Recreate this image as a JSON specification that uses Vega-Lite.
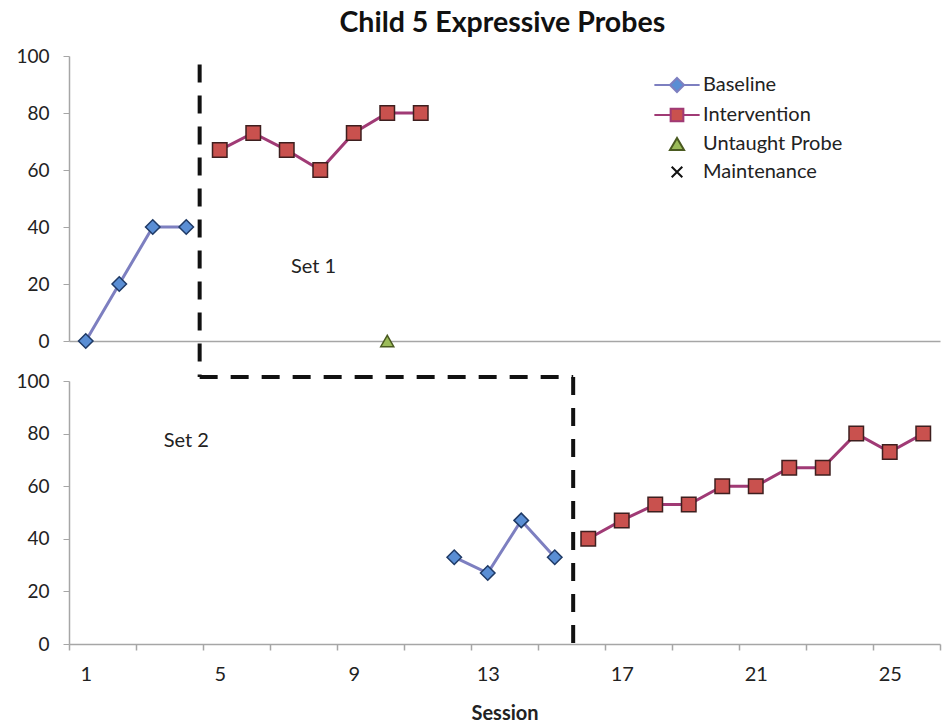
{
  "$schema": "https://vega.github.io/schema/vega-lite/v6.json",
  "background": "white",
  "padding": {"left": 15, "top": 8, "right": 3, "bottom": 4},
  "title": {"text": "Child 5 Expressive Probes", "fontSize": 28.5, "font": "Lato", "fontWeight": "bold", "color": "#111", "anchor": "middle", "offset": 10, "dx": 16},
  "datasets": {
    "probes": [
      {"set": "Set 1", "series": "Baseline", "session": 1, "value": 0},
      {"set": "Set 1", "series": "Baseline", "session": 2, "value": 20},
      {"set": "Set 1", "series": "Baseline", "session": 3, "value": 40},
      {"set": "Set 1", "series": "Baseline", "session": 4, "value": 40},
      {"set": "Set 1", "series": "Intervention", "session": 5, "value": 67},
      {"set": "Set 1", "series": "Intervention", "session": 6, "value": 73},
      {"set": "Set 1", "series": "Intervention", "session": 7, "value": 67},
      {"set": "Set 1", "series": "Intervention", "session": 8, "value": 60},
      {"set": "Set 1", "series": "Intervention", "session": 9, "value": 73},
      {"set": "Set 1", "series": "Intervention", "session": 10, "value": 80},
      {"set": "Set 1", "series": "Intervention", "session": 11, "value": 80},
      {"set": "Set 1", "series": "Untaught Probe", "session": 10, "value": 0},
      {"set": "Set 2", "series": "Baseline", "session": 12, "value": 33},
      {"set": "Set 2", "series": "Baseline", "session": 13, "value": 27},
      {"set": "Set 2", "series": "Baseline", "session": 14, "value": 47},
      {"set": "Set 2", "series": "Baseline", "session": 15, "value": 33},
      {"set": "Set 2", "series": "Intervention", "session": 16, "value": 40},
      {"set": "Set 2", "series": "Intervention", "session": 17, "value": 47},
      {"set": "Set 2", "series": "Intervention", "session": 18, "value": 53},
      {"set": "Set 2", "series": "Intervention", "session": 19, "value": 53},
      {"set": "Set 2", "series": "Intervention", "session": 20, "value": 60},
      {"set": "Set 2", "series": "Intervention", "session": 21, "value": 60},
      {"set": "Set 2", "series": "Intervention", "session": 22, "value": 67},
      {"set": "Set 2", "series": "Intervention", "session": 23, "value": 67},
      {"set": "Set 2", "series": "Intervention", "session": 24, "value": 80},
      {"set": "Set 2", "series": "Intervention", "session": 25, "value": 73},
      {"set": "Set 2", "series": "Intervention", "session": 26, "value": 80}
    ],
    "phases": [
      {"set": "Set 1", "x": 4.4, "x2": 4.4, "y": 97, "y2": -12.6},
      {"set": "Set 2", "x": 4.4, "x2": 15.55, "y": 101.5, "y2": 101.5},
      {"set": "Set 2", "x": 15.55, "x2": 15.55, "y": 101.5, "y2": 0}
    ]
  },
  "spacing": 40,
  "bounds": "flush",
  "vconcat": [
    {
      "width": 871,
      "height": 285,
      "layer": [
        {
          "data": {"name": "probes"},
          "transform": [{"filter": "datum.set === 'Set 1' && datum.series === 'Baseline'"}],
          "mark": {"type": "line", "color": "#7d7fc0", "strokeWidth": 3},
          "encoding": {
            "x": {"field": "session", "type": "quantitative", "scale": {"domain": [0.5, 26.5], "nice": false, "zero": false}, "axis": {"ticks": false, "labels": false, "title": null, "grid": false, "domainColor": "#a6a6a6", "domainWidth": 1.5}},
            "y": {"field": "value", "type": "quantitative", "scale": {"domain": [0, 100], "nice": false}, "axis": {"values": [0, 20, 40, 60, 80, 100], "title": null, "grid": false, "tickSize": 6, "tickColor": "#a6a6a6", "domainColor": "#a6a6a6", "domainWidth": 1.5, "labelFontSize": 19, "labelFont": "Lato", "labelColor": "#222", "labelPadding": 14}}
          }
        },
        {
          "data": {"name": "probes"},
          "transform": [{"filter": "datum.set === 'Set 1' && datum.series === 'Intervention'"}],
          "mark": {"type": "line", "color": "#a03a75", "strokeWidth": 3},
          "encoding": {
            "x": {"field": "session", "type": "quantitative"},
            "y": {"field": "value", "type": "quantitative"}
          }
        },
        {
          "data": {"name": "probes"},
          "transform": [{"filter": "datum.set === 'Set 1' && datum.series === 'Baseline'"}],
          "mark": {"type": "point", "shape": "diamond", "filled": true, "fill": "#5a8ed4", "stroke": "#1f3a66", "size": 210, "strokeWidth": 1.5, "opacity": 1},
          "encoding": {
            "x": {"field": "session", "type": "quantitative"},
            "y": {"field": "value", "type": "quantitative"}
          }
        },
        {
          "data": {"name": "probes"},
          "transform": [{"filter": "datum.set === 'Set 1' && datum.series === 'Intervention'"}],
          "mark": {"type": "point", "shape": "square", "filled": true, "fill": "#c9514e", "stroke": "#3e1f1f", "size": 210, "strokeWidth": 1.5, "opacity": 1},
          "encoding": {
            "x": {"field": "session", "type": "quantitative"},
            "y": {"field": "value", "type": "quantitative"}
          }
        },
        {
          "data": {"name": "probes"},
          "transform": [{"filter": "datum.set === 'Set 1' && datum.series === 'Untaught Probe'"}],
          "mark": {"type": "point", "shape": "triangle-up", "filled": true, "fill": "#9bbb59", "stroke": "#4a5a20", "size": 170, "strokeWidth": 1.5, "opacity": 1},
          "encoding": {
            "x": {"field": "session", "type": "quantitative"},
            "y": {"field": "value", "type": "quantitative"}
          }
        },
        {
          "data": {"name": "probes"},
          "transform": [{"filter": "false"}],
          "mark": {"type": "point", "filled": true, "size": 200, "strokeWidth": 2, "opacity": 1},
          "encoding": {
            "x": {"field": "session", "type": "quantitative"},
            "y": {"field": "value", "type": "quantitative"},
            "shape": {
              "field": "series", "type": "nominal",
              "scale": {"domain": ["Baseline", "Intervention", "Untaught Probe", "Maintenance"], "range": ["M-3.2,0L-1,0M1,0L3.2,0M0,-1L1,0L0,1L-1,0Z", "M-3.2,0L-0.9,0M0.9,0L3.2,0M-0.9,-0.9L0.9,-0.9L0.9,0.9L-0.9,0.9Z", "triangle-up", "M-0.75,-0.75L0.75,0.75M-0.75,0.75L0.75,-0.75"]},
              "legend": {
                "orient": "none", "legendX": 598, "legendY": 19, "title": null,
                "labelFont": "Lato", "labelFontSize": 20, "labelColor": "#222",
                "symbolSize": 200, "symbolStrokeWidth": 2, "rowPadding": 7, "labelOffset": 16, "padding": 0, "symbolOpacity": 1
              }
            },
            "fill": {
              "field": "series", "type": "nominal", "legend": null,
              "scale": {"domain": ["Baseline", "Intervention", "Untaught Probe", "Maintenance"], "range": ["#5a8ed4", "#c9514e", "#9bbb59", "transparent"]}
            },
            "stroke": {
              "field": "series", "type": "nominal", "legend": null,
              "scale": {"domain": ["Baseline", "Intervention", "Untaught Probe", "Maintenance"], "range": ["#7d7fc0", "#a03a75", "#4a5a20", "#111111"]}
            }
          }
        },
        {
          "data": {"name": "phases"},
          "transform": [{"filter": "datum.set === 'Set 1'"}],
          "mark": {"type": "rule", "color": "#111", "strokeWidth": 4, "strokeDash": [18, 13], "strokeCap": "butt"},
          "encoding": {
            "x": {"field": "x", "type": "quantitative"},
            "x2": {"field": "x2"},
            "y": {"field": "y", "type": "quantitative"},
            "y2": {"field": "y2"}
          }
        },
        {
          "data": {"values": [{}]},
          "mark": {"type": "text", "text": "Set 1", "font": "Lato", "fontSize": 20, "color": "#222"},
          "encoding": {
            "x": {"datum": 7.8, "type": "quantitative"},
            "y": {"datum": 26, "type": "quantitative"}
          }
        }
      ]
    },
    {
      "width": 871,
      "height": 263,
      "layer": [
        {
          "data": {"name": "probes"},
          "transform": [{"filter": "datum.set === 'Set 2' && datum.series === 'Baseline'"}],
          "mark": {"type": "line", "color": "#7d7fc0", "strokeWidth": 3},
          "encoding": {
            "x": {"field": "session", "type": "quantitative", "scale": {"domain": [0.5, 26.5], "nice": false, "zero": false},
              "axis": {"values": [0.5, 1.5, 2.5, 3.5, 4.5, 5.5, 6.5, 7.5, 8.5, 9.5, 10.5, 11.5, 12.5, 13.5, 14.5, 15.5, 16.5, 17.5, 18.5, 19.5, 20.5, 21.5, 22.5, 23.5, 24.5, 25.5, 26.5],
                "labelExpr": "(datum.value + 0.5) % 4 === 1 ? format(datum.value + 0.5, 'd') : ''",
                "labelOffset": 16.75, "labelFlush": false, "labelOverlap": false, "labelBound": false,
                "tickSize": 6, "tickColor": "#a6a6a6", "domainColor": "#a6a6a6", "domainWidth": 1.5, "tickWidth": 1.5,
                "labelFontSize": 20, "labelFont": "Lato", "labelColor": "#222", "labelPadding": 14, "grid": false,
                "title": "Session", "titleFont": "Lato", "titleFontSize": 20, "titleFontWeight": "bold", "titleColor": "#222", "titlePadding": 19}},
            "y": {"field": "value", "type": "quantitative", "scale": {"domain": [0, 100], "nice": false}, "axis": {"values": [0, 20, 40, 60, 80, 100], "title": null, "grid": false, "tickSize": 6, "tickColor": "#a6a6a6", "domainColor": "#a6a6a6", "domainWidth": 1.5, "labelFontSize": 19, "labelFont": "Lato", "labelColor": "#222", "labelPadding": 14}}
          }
        },
        {
          "data": {"name": "probes"},
          "transform": [{"filter": "datum.set === 'Set 2' && datum.series === 'Intervention'"}],
          "mark": {"type": "line", "color": "#a03a75", "strokeWidth": 3},
          "encoding": {
            "x": {"field": "session", "type": "quantitative"},
            "y": {"field": "value", "type": "quantitative"}
          }
        },
        {
          "data": {"name": "probes"},
          "transform": [{"filter": "datum.set === 'Set 2' && datum.series === 'Baseline'"}],
          "mark": {"type": "point", "shape": "diamond", "filled": true, "fill": "#5a8ed4", "stroke": "#1f3a66", "size": 210, "strokeWidth": 1.5, "opacity": 1},
          "encoding": {
            "x": {"field": "session", "type": "quantitative"},
            "y": {"field": "value", "type": "quantitative"}
          }
        },
        {
          "data": {"name": "probes"},
          "transform": [{"filter": "datum.set === 'Set 2' && datum.series === 'Intervention'"}],
          "mark": {"type": "point", "shape": "square", "filled": true, "fill": "#c9514e", "stroke": "#3e1f1f", "size": 210, "strokeWidth": 1.5, "opacity": 1},
          "encoding": {
            "x": {"field": "session", "type": "quantitative"},
            "y": {"field": "value", "type": "quantitative"}
          }
        },
        {
          "data": {"name": "phases"},
          "transform": [{"filter": "datum.set === 'Set 2'"}],
          "mark": {"type": "rule", "color": "#111", "strokeWidth": 4, "strokeDash": [18, 13], "strokeCap": "butt"},
          "encoding": {
            "x": {"field": "x", "type": "quantitative"},
            "x2": {"field": "x2"},
            "y": {"field": "y", "type": "quantitative"},
            "y2": {"field": "y2"}
          }
        },
        {
          "data": {"values": [{}]},
          "mark": {"type": "text", "text": "Set 2", "font": "Lato", "fontSize": 20, "color": "#222"},
          "encoding": {
            "x": {"datum": 4.0, "type": "quantitative"},
            "y": {"datum": 77, "type": "quantitative"}
          }
        }
      ]
    }
  ],
  "config": {
    "font": "Lato",
    "view": {"stroke": null},
    "axis": {"labelFont": "Lato", "titleFont": "Lato"}
  }
}
